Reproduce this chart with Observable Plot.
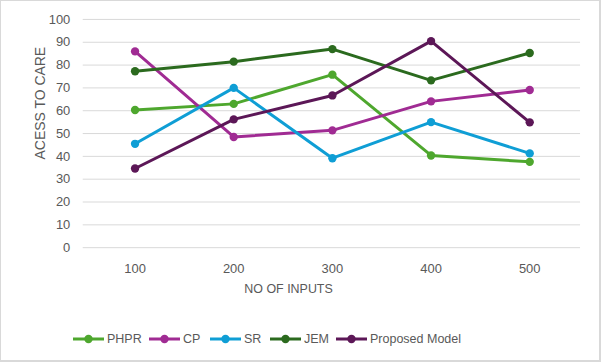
<!DOCTYPE html>
<html>
<head>
<meta charset="utf-8">
<script src="https://cdn.jsdelivr.net/npm/d3@7"></script>
<script src="https://cdn.jsdelivr.net/npm/@observablehq/plot@0.6"></script>
<style>
  html, body { margin: 0; padding: 0; background: #fff; }
  #wrap { position: relative; width: 601px; height: 362px; box-sizing: border-box; border: 1px solid #d9d9d9; border-right-width: 2px; border-bottom-width: 2px; background: #fff; overflow: hidden; font-family: "Liberation Sans", "DejaVu Sans", sans-serif; }
  #chart { position: absolute; left: -1px; top: -1px; }
  #legend { position: absolute; top: 331px; left: 0; width: 600px; height: 16px; font-size: 12.5px; color: #595959; white-space: nowrap; }
  .item { position: absolute; top: 0; display: flex; align-items: center; }
  .item svg { margin-right: 3px; }
</style>
</head>
<body>
<div id="wrap"><div id="chart"></div><div id="legend"></div></div>
<script>
const inputs = ["100", "200", "300", "400", "500"];
const seriesNames = ["PHPR", "CP", "SR", "JEM", "Proposed Model"];
const seriesColors = ["#4ea72e", "#a02b93", "#0f9ed5", "#2b6a1e", "#5c1757"];
const phpr = [60.3, 63.0, 75.8, 40.4, 37.6];
const cp = [86.0, 48.5, 51.4, 64.1, 69.1];
const sr = [45.5, 70.0, 39.2, 55.0, 41.3];
const jem = [77.3, 81.5, 87.0, 73.3, 85.3];
const proposed = [34.7, 56.2, 66.7, 90.5, 54.9];
const yTicks = [0, 10, 20, 30, 40, 50, 60, 70, 80, 90, 100];

const seriesValues = [phpr, cp, sr, jem, proposed];
const data = [];
seriesNames.forEach((s, i) => {
  inputs.forEach((x, j) => data.push({series: s, x, y: seriesValues[i][j]}));
});

const chart = Plot.plot({
  width: 601,
  height: 362,
  marginLeft: 83,
  marginRight: 19,
  marginTop: 19,
  marginBottom: 114,
  style: {fontFamily: "Liberation Sans, DejaVu Sans, sans-serif", fontSize: "13px", color: "#595959", background: "transparent"},
  x: {type: "point", domain: inputs, padding: 0.5, label: null},
  y: {domain: [0, 100], label: null},
  color: {domain: seriesNames, range: seriesColors},
  marks: [
    Plot.ruleY(yTicks, {stroke: "#d9d9d9", strokeWidth: 1}),
    Plot.axisY({ticks: yTicks, tickSize: 0, tickPadding: 13, label: null, fontSize: 13}),
    Plot.axisX({tickSize: 0, tickPadding: 16, label: null, fontSize: 13}),
    Plot.text(["NO OF INPUTS"], {frameAnchor: "bottom-left", dx: 206, dy: 45, fontSize: 12.5, fill: "#595959", textAnchor: "middle"}),
    Plot.text(["ACESS TO CARE"], {frameAnchor: "top-left", dx: -48, dy: 84, rotate: -90, fontSize: 14, fill: "#595959", textAnchor: "middle"}),
    Plot.line(data, {x: "x", y: "y", z: "series", stroke: "series", strokeWidth: 3, strokeLinejoin: "round"}),
    Plot.dot(data, {x: "x", y: "y", fill: "series", r: 4.2})
  ]
});
document.getElementById("chart").appendChild(chart);

const legendLefts = [72, 148, 209, 269, 335];
const legend = document.getElementById("legend");
seriesNames.forEach((s, i) => {
  const item = document.createElement("div");
  item.className = "item";
  item.style.left = legendLefts[i] + "px";
  item.innerHTML = `<svg width="31" height="10"><line x1="0" y1="5" x2="31" y2="5" stroke="${seriesColors[i]}" stroke-width="3"/><circle cx="15.5" cy="5" r="4.2" fill="${seriesColors[i]}"/></svg><span>${s}</span>`;
  legend.appendChild(item);
});
</script>
</body>
</html>
